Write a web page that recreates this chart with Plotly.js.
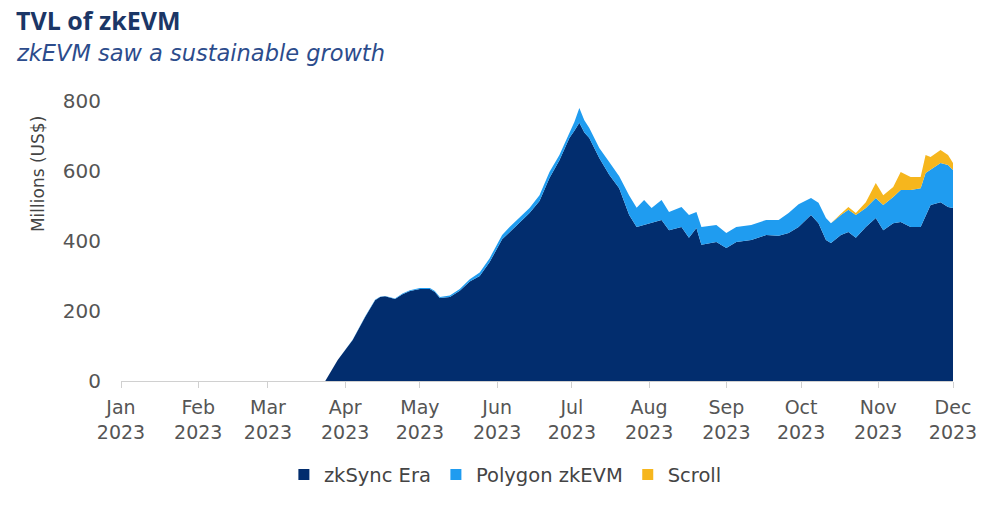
<!DOCTYPE html>
<html>
<head>
<meta charset="utf-8">
<script src="https://cdn.plot.ly/plotly-3.0.1.min.js"></script>
<style>
html,body{margin:0;padding:0;background:#fff;}
#chart{width:1000px;height:507px;}
</style>
</head>
<body>
<div id="chart"></div>
<script>
const dates = [
  "2023-03-24","2023-03-29","2023-04-04","2023-04-09","2023-04-13","2023-04-15","2023-04-17","2023-04-21","2023-04-24","2023-04-27",
  "2023-05-01","2023-05-05","2023-05-07","2023-05-09","2023-05-13","2023-05-17","2023-05-21","2023-05-25","2023-05-29",
  "2023-06-03","2023-06-06","2023-06-09","2023-06-14","2023-06-18","2023-06-22","2023-06-26","2023-06-30",
  "2023-07-02","2023-07-04","2023-07-06","2023-07-08","2023-07-12","2023-07-16","2023-07-20","2023-07-24","2023-07-27","2023-07-30",
  "2023-08-02","2023-08-06","2023-08-09","2023-08-14","2023-08-17","2023-08-20","2023-08-22","2023-08-28",
  "2023-09-01","2023-09-05","2023-09-11","2023-09-17","2023-09-22","2023-09-26","2023-09-30",
  "2023-10-05","2023-10-08","2023-10-11","2023-10-13","2023-10-17","2023-10-20","2023-10-23","2023-10-27","2023-10-31",
  "2023-11-03","2023-11-07","2023-11-10","2023-11-14","2023-11-18","2023-11-20","2023-11-22","2023-11-26","2023-11-29","2023-12-01"
];
const zkSyncEra = [
  0,60,117,183,231,240,242,234,248,257,
  263,263,254,237,240,258,284,300,340,
  405,425,446,480,514,580,631,694,
  715,738,710,694,637,589,551,474,440,446,
  451,460,431,440,409,437,389,397,
  380,397,403,417,415,423,440,
  474,451,403,394,417,426,409,440,466,
  431,451,454,440,440,474,503,511,497,494
];
const polygonZkEVM = [
  0,0,1,1,1,1,1,2,2,2,
  3,3,3,3,4,5,7,10,11,
  12,15,14,14,17,17,15,17,
  25,42,35,29,29,37,34,56,55,71,
  43,57,52,57,65,46,51,49,
  43,43,43,43,45,57,65,
  49,58,63,57,57,63,65,54,57,
  72,75,92,106,111,120,100,112,120,109
];
const scroll = [
  0,0,0,0,0,0,0,0,0,0,
  0,0,0,0,0,0,0,0,0,
  0,0,0,0,0,0,0,0,
  0,0,0,0,0,0,0,0,0,0,
  0,0,0,0,0,0,0,0,
  0,0,0,0,0,0,0,
  0,0,0,0,4,8,6,17,43,
  28,28,51,37,32,52,37,37,29,20
];
const seriesNames = ["zkSync Era","Polygon zkEVM","Scroll"];
const seriesColors = ["#022d6e","#1f9cf0","#f6b61d"];
const monthTicks = ["2023-01-01","2023-02-01","2023-03-01","2023-04-01","2023-05-01","2023-06-01","2023-07-01","2023-08-01","2023-09-01","2023-10-01","2023-11-01","2023-12-01"];
const monthLabels = ["Jan<br>2023","Feb<br>2023","Mar<br>2023","Apr<br>2023","May<br>2023","Jun<br>2023","Jul<br>2023","Aug<br>2023","Sep<br>2023","Oct<br>2023","Nov<br>2023","Dec<br>2023"];
const yTicks = [0,200,400,600,800];

const values = [zkSyncEra, polygonZkEVM, scroll];
const areaTraces = values.map((v,i)=>({
  x: dates, y: v, name: seriesNames[i], type: 'scatter', mode: 'lines',
  stackgroup: 'one', line: {width: 0, color: seriesColors[i]}, fillcolor: seriesColors[i],
  hoverinfo: 'skip', showlegend: false
}));
// legend-only entries with square swatches
const legendTraces = seriesNames.map((n,i)=>({
  x: [null], y: [null], name: n, type: 'scatter', mode: 'markers',
  marker: {symbol: 'square', size: 11, color: seriesColors[i]}, hoverinfo: 'skip', showlegend: true
}));

const TFONT = "Open Sans, Lato, sans-serif";
const FONT = "DejaVu Sans, Verdana, sans-serif";
const layout = {
  width: 1000, height: 507,
  margin: {l: 121, r: 47, t: 101, b: 126},
  paper_bgcolor: '#fff', plot_bgcolor: '#fff',
  font: {family: FONT, color: '#555555', size: 18},
  showlegend: true,
  legend: {orientation: 'h', x: 0.462, xanchor: 'center', xref: 'paper', y: -0.335, yanchor: 'middle',
           font: {size: 19.5, color: '#444444', family: FONT}, itemwidth: 30, traceorder: 'normal'},
  xaxis: {
    type: 'date', range: ['2023-01-01','2023-12-01'],
    tickmode: 'array', tickvals: monthTicks, ticktext: monthLabels,
    showgrid: false, zeroline: false, showline: true, linecolor: '#d0d0d0', linewidth: 1,
    ticks: 'outside', ticklen: 6, tickcolor: '#d0d0d0', ticklabelstandoff: 3,
    tickfont: {size: 19, color: '#555555', family: FONT}
  },
  yaxis: {
    range: [0, 800], tickmode: 'array', tickvals: yTicks,
    showgrid: false, zeroline: false, showline: false, ticks: '',
    ticklabelstandoff: 19, tickfont: {size: 20, color: '#555555', family: FONT}
  },
  annotations: [
    {text: '<b>TVL of zkEVM</b>', xref: 'paper', yref: 'paper', x: -0.129, y: 1.0, xanchor: 'left', yanchor: 'bottom',
     yshift: 62, showarrow: false, font: {size: 25, color: '#1b3666', family: TFONT}},
    {text: '<i>zkEVM saw a sustainable growth</i>', xref: 'paper', yref: 'paper', x: -0.129, y: 1.0, xanchor: 'left', yanchor: 'bottom',
     yshift: 33, showarrow: false, font: {size: 22.5, color: '#2c4c8c', family: FONT}},
    {text: 'Millions (US$)', xref: 'paper', yref: 'paper', x: -0.0998, y: 0.739, xanchor: 'center', yanchor: 'middle',
     textangle: -90, showarrow: false, font: {size: 17, color: '#444444', family: FONT}}
  ]
};
Plotly.newPlot('chart', areaTraces.concat(legendTraces), layout, {displayModeBar: false, staticPlot: true});
</script>
</body>
</html>
